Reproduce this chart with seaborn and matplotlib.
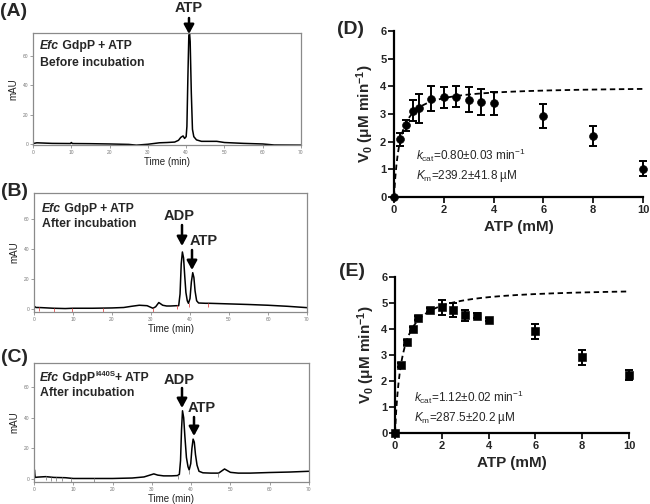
import numpy as np
import pandas as pd
import matplotlib
matplotlib.use("Agg")
import matplotlib.pyplot as plt
import seaborn as sns

sns.set_style("white")
plt.rcParams['font.family'] = ['Liberation Sans', 'DejaVu Sans']
plt.rcParams['mathtext.fontset'] = 'custom'
plt.rcParams['mathtext.rm'] = 'Liberation Sans'
plt.rcParams['mathtext.it'] = 'Liberation Sans:italic'
plt.rcParams['mathtext.bf'] = 'Liberation Sans:bold'

# ---------------- data ----------------
# Chromatogram A: EfcGdpP + ATP, before incubation
tA = [0, 1, 3, 5, 9.8, 10, 10.3, 15, 20, 25, 27, 30, 33, 35, 37, 38, 38.6, 39.2, 39.6,
      40.0, 40.2, 40.45, 40.7, 40.9, 41.05, 41.35, 41.65, 42.0, 42.7, 44, 46, 48, 50, 55, 60, 63, 70]
yA = [0.3, 0.8, 0.6, 0.4, 0.3, 1.0, 0.3, 0.2, 0.0, -0.3, -0.8, -0.2, 0.8, 1.0, 1.3, 2.5, 4.5, 5.5, 3.8,
      5.0, 12, 45, 74, 75.5, 70, 35, 10, 5, 2.8, 1.8, 1.8, 1.8, 1.0, 0.4, 0.0, -0.7, -0.8]

# Chromatogram B: EfcGdpP + ATP, after incubation
tB = [0, 0.5, 1, 2, 5, 8, 10, 15, 20, 23, 25, 27, 29, 30.5, 31.2, 32, 33, 34, 35, 36.5,
      37.1, 37.45, 37.75, 38.05, 38.35, 38.65, 38.95, 39.3, 39.6, 40.0, 40.35, 40.7, 41.0, 41.3, 41.7, 42.2,
      44, 45, 50, 55, 60, 65, 70]
yB = [2.0, 1.0, 1.0, 0.9, 0.5, 0.3, 0.5, 0.5, 0.7, 1.0, 1.8, 2.5, 2.2, 0.5, 1.5, 4.3, 2.5, 2.0, 2.0, 2.2,
      2.2, 10, 30, 38, 34, 22, 11, 5.5, 3.8, 7, 18, 24.2, 21, 12, 5.5, 4.0,
      3.8, 3.8, 3.4, 3.0, 2.5, 1.8, 0.9]
markB_t = [1.3, 5.1, 9.8, 17.6, 30.4, 36.6, 39.8, 44.7]
markB_y = [1.0, 0.5, 0.5, 0.5, 0.5, 2.2, 3.8, 3.8]

# Chromatogram C: EfcGdpP(I440S) + ATP, after incubation
tC = [0, 0.1, 0.3, 1, 3, 5, 8, 10, 12, 15, 20, 25, 28, 29.5, 30.5, 31.5, 33, 35, 36.5,
      37.0, 37.3, 37.55, 37.8, 38.1, 38.4, 38.8, 39.2, 39.5, 39.9, 40.2, 40.5, 40.8, 41.1, 41.5, 42,
      43, 45, 47, 48.5, 50, 52, 55, 60, 65, 70]
yC = [0.0, 6.0, 1.0, 1.2, 1.5, 1.0, 0.8, 0.3, 0.3, 0.3, 0.3, 0.6, 1.3, 2.5, 3.3, 2.5, 2.0, 2.0, 2.2,
      3.0, 12, 32, 44.5, 40, 28, 14, 8, 5.9, 10, 20, 26, 24, 16, 9, 5,
      4.0, 3.8, 3.8, 6.5, 4.3, 3.8, 3.8, 4.2, 4.5, 5.0]
markC_t = [3.1, 4.4, 5.7, 7.0, 9.5, 15.2, 36.7, 39.5, 46.9]
markC_y = [1.5, 1.1, 1.0, 0.9, 0.4, 0.3, 2.2, 5.9, 3.8]

# Kinetics D (circles) and E (squares)
atp_mM = [0, 0.25, 0.5, 0.75, 1, 1.5, 2, 2.5, 3, 3.5, 4, 6, 8, 10]
vD = [0, 2.08, 2.6, 3.12, 3.2, 3.55, 3.6, 3.63, 3.51, 3.45, 3.39, 2.93, 2.2, 1.03]
eD = [0, 0.24, 0.2, 0.37, 0.53, 0.45, 0.39, 0.38, 0.45, 0.47, 0.42, 0.44, 0.35, 0.26]
vE = [0, 2.6, 3.49, 4.0, 4.41, 4.73, 4.83, 4.74, 4.53, 4.51, 4.36, 3.91, 2.91, 2.24]
eE = [0, 0.08, 0.1, 0.06, 0.08, 0.07, 0.29, 0.27, 0.21, 0.1, 0.05, 0.3, 0.29, 0.19]

# Michaelis-Menten fit parameters (from the panel text), enzyme 5 uM
ENZ_uM = 5.0
KCAT_D, KM_D = 0.80, 0.2392
KCAT_E, KM_E = 1.12, 0.2875

W, H = 650, 504
def fx(px):
    return px / W
def fy(py):
    return 1 - py / H

fig = plt.figure(figsize=(6.5, 5.04), dpi=100)

# ---------------- chromatograms ----------------
def chrom_axes(rect, t, y, ylim):
    ax = fig.add_axes(rect)
    sns.lineplot(x=t, y=y, ax=ax, color='black', lw=1.1, errorbar=None)
    ax.set_xlim(0, 70)
    ax.set_ylim(*ylim)
    ax.set_xticks(range(0, 71, 10))
    ax.set_yticks([0, 20, 40, 60])
    for s in ax.spines.values():
        s.set_color('#8a8a8a')
        s.set_linewidth(0.9)
    ax.tick_params(axis='both', which='both', direction='out', length=2, width=0.5,
                   colors='#777777', labelsize=3.5, pad=1.5, bottom=True, left=True)
    ax.set_xlabel('Time (min)', fontsize=7, labelpad=1.5, color='#222222')
    ax.set_ylabel('mAU', fontsize=7, labelpad=3, color='#222222')
    return ax

axA = chrom_axes([fx(33), fy(145), 268 / W, 112 / H], tA, yA, (-0.7, 75.8))
axB = chrom_axes([fx(34), fy(312), 273 / W, 119 / H], tB, yB, (-2, 77.3))
axC = chrom_axes([fx(34), fy(482), 275 / W, 119 / H], tC, yC, (-2, 75.7))
axB.plot(markB_t, [v - 1.2 for v in markB_y], ls='none', marker='|', ms=3, mew=0.6, color='#e05050')
axC.plot(markC_t, [v - 1.2 for v in markC_y], ls='none', marker='|', ms=3, mew=0.6, color='#888888')

TXT = 8.8
def label_line(ax, x, y, parts):
    prev = None
    for txt, kw in parts:
        if prev is None:
            prev = fig.text(fx(x), fy(y), txt, va='bottom', ha='left', fontsize=kw.get('size', TXT),
                            fontweight='bold', fontstyle=kw.get('style', 'normal'))
        else:
            yrel = kw.get('yrel', 0)
            prev = ax.annotate(txt, xy=(1, yrel), xycoords=prev, va='bottom', ha='left',
                               fontsize=kw.get('size', TXT), fontweight='bold',
                               fontstyle=kw.get('style', 'normal'), annotation_clip=False)
    return prev

label_line(axA, 40, 52, [('Efc', {'style': 'italic'}), (' GdpP + ATP', {})])
label_line(axA, 40, 69, [('Before incubation', {})])
label_line(axB, 42, 215, [('Efc', {'style': 'italic'}), (' GdpP + ATP', {})])
label_line(axB, 42, 230, [('After incubation', {})])

# C line with superscript
t1 = fig.text(fx(40), fy(384), 'Efc', va='bottom', ha='left', fontsize=TXT, fontweight='bold', fontstyle='italic')
t2 = axC.annotate(' GdpP', xy=(1, 0), xycoords=t1, va='bottom', ha='left', fontsize=TXT,
                  fontweight='bold', annotation_clip=False)
t3 = axC.annotate('I440S', xy=(1, 0.5), xycoords=t2, va='bottom', ha='left', fontsize=5.5,
                  fontweight='bold', annotation_clip=False)
axC.annotate('+ ATP', xy=(1, 0), xycoords=(t3, t2), va='bottom', ha='left', fontsize=TXT,
             fontweight='bold', annotation_clip=False)
label_line(axC, 40, 399, [('After incubation', {})])

# peak labels and arrows
def peak(ax, label, tx, ty, ax_x, y0, y1):
    fig.text(fx(tx), fy(ty), label, ha='center', va='center', fontsize=10.5, fontweight='bold')
    ax.annotate('', xy=(fx(ax_x), fy(y1)), xytext=(fx(ax_x), fy(y0)), xycoords='figure fraction',
                textcoords='figure fraction', annotation_clip=False,
                arrowprops=dict(arrowstyle='-|>,head_length=0.55,head_width=0.3', lw=1.8,
                                color='black', shrinkA=0, shrinkB=0))

peak(axA, 'ATP', 189, 8, 189, 18, 34)
peak(axB, 'ADP', 179, 216, 182, 225, 246)
peak(axB, 'ATP', 204, 241, 192, 250, 270)
peak(axC, 'ADP', 179, 380, 182, 388, 408)
peak(axC, 'ATP', 202, 408, 194, 417, 436)

# ---------------- kinetics ----------------
def kin_axes(rect, v, e, marker, ms, kcat, km, lines):
    ax = fig.add_axes(rect)
    xs = np.linspace(0, 10, 400)
    fit = kcat * ENZ_uM * xs / (km + xs)
    sns.lineplot(x=xs, y=fit, ax=ax, color='black', lw=1.3, linestyle=(0, (3, 2)), errorbar=None, zorder=2)
    ax.errorbar(atp_mM, v, yerr=e, fmt='none', ecolor='black', elinewidth=1.4, capsize=3,
                capthick=1.4, zorder=3, clip_on=False)
    sns.scatterplot(x=atp_mM, y=v, ax=ax, marker=marker, s=ms, color='black', edgecolor='black',
                    zorder=4, clip_on=False)
    ax.set_xlim(0, 10)
    ax.set_ylim(0, 6)
    ax.set_xticks(range(0, 11, 2))
    ax.set_yticks(range(0, 7))
    sns.despine(ax=ax)
    for s in ['left', 'bottom']:
        ax.spines[s].set_linewidth(1.6)
        ax.spines[s].set_color('black')
    ax.tick_params(axis='both', direction='out', length=4, width=1.4, labelsize=8, pad=1.5,
                   bottom=True, left=True)
    for lab in ax.get_xticklabels() + ax.get_yticklabels():
        lab.set_fontweight('bold')
    ax.set_xlabel('ATP (mM)', fontsize=11, fontweight='bold', labelpad=4)
    ax.set_ylabel(r'V$_\mathbf{0}$ ($\mathbf{\mu}$M min$^\mathbf{-1}$)', fontsize=11,
                  fontweight='bold', labelpad=3)
    for (xp, yp, s) in lines:
        fig.text(fx(xp), fy(yp), s, ha='left', va='center', fontsize=8.5)
    return ax

axD = kin_axes([fx(394), fy(197), 249 / W, 166 / H], vD, eD, 'o', 32, KCAT_D, KM_D,
               [(416, 155, r'$k_{\mathrm{cat}}$=0.80±0.03 min$^{-1}$'),
                (416, 176, r'$K_{\mathrm{m}}$=239.2±41.8 µM')])
axE = kin_axes([fx(395), fy(433), 234 / W, 156 / H], vE, eE, 's', 30, KCAT_E, KM_E,
               [(414, 397, r'$k_{\mathrm{cat}}$=1.12±0.02 min$^{-1}$'),
                (414, 418, r'$K_{\mathrm{m}}$=287.5±20.2 µM')])

# panel labels
for lab, xp, yp in [('(A)', 14, 12), ('(B)', 14, 192), ('(C)', 14, 358), ('(D)', 351, 30), ('(E)', 352, 271)]:
    fig.text(fx(xp), fy(yp), lab, ha='center', va='center', fontsize=14, fontweight='bold')

fig.savefig('out.png', dpi=100)
